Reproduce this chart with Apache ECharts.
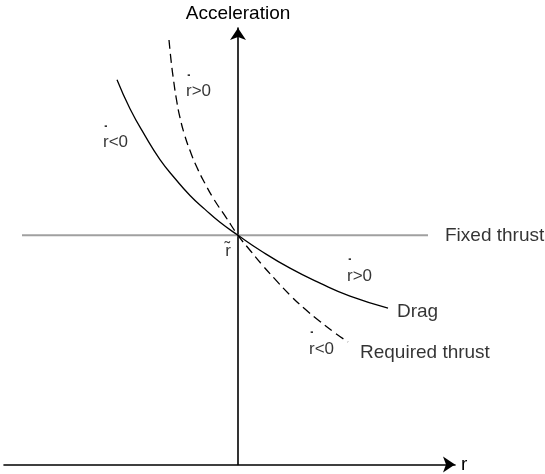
<!DOCTYPE html>
<html>
<head>
<meta charset="utf-8">
<script src="https://cdn.jsdelivr.net/npm/echarts@6/dist/echarts.min.js"></script>
<style>html,body{margin:0;padding:0;background:#fff}#c{width:545px;height:474px}</style>
</head>
<body>
<div id="c"></div>
<script>
// Schematic: r measured from r~ (crossing point), acceleration relative to fixed thrust
const dragCurve = [
  [-1.21, 1.56], [-1.08, 1.27], [-0.93, 1.00], [-0.78, 0.76], [-0.63, 0.57],
  [-0.48, 0.40], [-0.33, 0.26], [-0.18, 0.13], [0, 0], [0.22, -0.15],
  [0.52, -0.33], [0.82, -0.48], [1.12, -0.61], [1.50, -0.73]
];
const requiredThrustCurve = [
  [-0.69, 1.96], [-0.67, 1.76], [-0.645, 1.56], [-0.615, 1.36], [-0.58, 1.18],
  [-0.535, 1.01], [-0.48, 0.85], [-0.41, 0.68], [-0.33, 0.52], [-0.24, 0.36],
  [-0.12, 0.18], [0, 0], [0.12, -0.15], [0.24, -0.295], [0.37, -0.44],
  [0.52, -0.60], [0.67, -0.74], [0.82, -0.865], [0.97, -0.98], [1.10, -1.07]
];
const fixedThrustLine = [[-2.16, 0], [1.90, 0]];
// r-dot labels: [text after the dotted r, position]
const rateLabels = [
  { text: '>0', pos: [-0.52, 1.46] },
  { text: '<0', pos: [-1.35, 0.95] },
  { text: '>0', pos: [1.09, -0.39] },
  { text: '<0', pos: [0.71, -1.12] }
];
const textLabels = [
  { text: 'r̃', pos: [-0.10, -0.16], align: 'center', size: 17 },
  { text: 'Drag', pos: [1.59, -0.77], align: 'left', size: 19 },
  { text: 'Required thrust', pos: [1.22, -1.18], align: 'left', size: 19 },
  { text: 'Fixed thrust', pos: [2.07, 0], align: 'left', size: 19 }
];
const xName = 'r';
const yName = 'Acceleration';

const FONT = '"Liberation Sans", Arial, Helvetica, sans-serif';
const chart = echarts.init(document.getElementById('c'), null, { renderer: 'canvas' });
chart.setOption({
  backgroundColor: '#fff',
  animation: false,
  grid: { left: 4, right: 90, top: 28, bottom: 8, containLabel: false },
  xAxis: {
    type: 'value', min: -2.34, max: 2.17,
    name: xName, nameLocation: 'end', nameGap: 6,
    nameTextStyle: { fontFamily: FONT, fontSize: 19, color: '#000', verticalAlign: 'middle' },
    axisLine: { onZero: false, symbol: ['none', 'arrow'], symbolSize: [12, 12], lineStyle: { color: '#000', width: 1.6 } },
    axisTick: { show: false }, axisLabel: { show: false }, splitLine: { show: false }
  },
  yAxis: {
    type: 'value', min: -2.3, max: 2.08,
    name: yName, nameLocation: 'end', nameGap: 5,
    nameTextStyle: { fontFamily: FONT, fontSize: 19, color: '#000' },
    axisLine: { onZero: true, symbol: ['none', 'arrow'], symbolSize: [12, 12], lineStyle: { color: '#000', width: 1.6 } },
    axisTick: { show: false }, axisLabel: { show: false }, splitLine: { show: false }
  },
  series: [
    {
      type: 'line', data: fixedThrustLine, showSymbol: false, symbol: 'none',
      lineStyle: { color: '#a0a0a0', width: 2 }, z: 1
    },
    {
      type: 'line', data: dragCurve, smooth: true, showSymbol: false, symbol: 'none',
      lineStyle: { color: '#000', width: 1.3 }, z: 3
    },
    {
      type: 'line', data: requiredThrustCurve, smooth: true, showSymbol: false, symbol: 'none',
      lineStyle: { color: '#000', width: 1.3, type: [9, 5] }, z: 3
    },
    {
      type: 'scatter', symbolSize: 0, z: 5, silent: true,
      data: textLabels.map(a => ({
        value: a.pos,
        label: {
          show: true, position: 'inside', formatter: a.text, align: a.align,
          verticalAlign: 'middle', fontFamily: FONT, fontSize: a.size, color: '#000'
        }
      }))
    },
    {
      type: 'scatter', symbolSize: 0, z: 5, silent: true,
      data: rateLabels.map(a => ({
        value: a.pos,
        label: {
          show: true, position: 'inside', align: 'left', verticalAlign: 'middle',
          formatter: '{d|˙}\n{t|r' + a.text + '}',
          rich: {
            d: { fontFamily: FONT, fontSize: 17, lineHeight: 4, color: '#000', fontWeight: 'bold' },
            t: { fontFamily: FONT, fontSize: 17, lineHeight: 17, color: '#000' }
          }
        }
      }))
    }
  ]
});
</script>
</body>
</html>
